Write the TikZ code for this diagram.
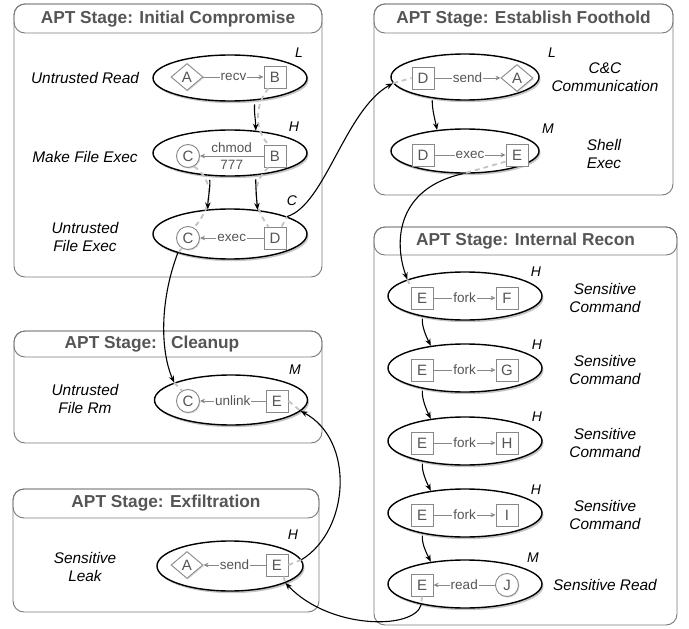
\documentclass[tikz,border=0pt]{standalone}
\usepackage{fontspec}
\setmainfont{Liberation Sans}
\usetikzlibrary{shapes.geometric,shadows,arrows.meta}
\definecolor{pgrey}{HTML}{7A7A7A}
\definecolor{tgrey}{HTML}{555555}
\definecolor{dgrey}{HTML}{C4C4C4}
\definecolor{igrey}{HTML}{888888}
\tikzset{
  panel/.style={draw=pgrey, line width=0.9pt, rounded corners=11pt},
  header/.style={font=\fontsize{17.3}{19}\selectfont\bfseries, text=tgrey, inner sep=0pt},
  ell/.style={ellipse, draw=black, line width=1.4pt, fill=white, inner sep=0pt,
    drop shadow={opacity=0.45, shadow xshift=1.5pt, shadow yshift=-2.2pt}},
  inner/.style={draw=igrey, line width=0.9pt, fill=white, inner sep=0pt, text=tgrey,
    font=\fontsize{15}{17}\selectfont,
    drop shadow={opacity=0.25, shadow xshift=1pt, shadow yshift=-1.2pt}},
  sq/.style={inner, rectangle, minimum size=22pt},
  circ/.style={inner, circle, minimum size=23pt},
  dia/.style={inner, diamond, minimum width=32pt, minimum height=27pt},
  iarr/.style={draw=igrey, line width=0.9pt, -{Stealth[length=5pt,width=4.5pt,inset=1.5pt]}},
  elab/.style={fill=white, inner sep=1pt, text=tgrey, font=\fontsize{13.5}{15}\selectfont},
  elabn/.style={inner sep=1pt, text=tgrey, font=\fontsize{13.5}{15}\selectfont},
  barr/.style={draw=black, line width=1.1pt, -{Stealth[length=7pt,width=5.5pt]}},
  gdash/.style={draw=dgrey, line width=1.8pt, dash pattern=on 5pt off 4pt},
  lvl/.style={font=\fontsize{14}{16}\selectfont\itshape},
  desc/.style={font=\fontsize{15.4}{18}\selectfont\itshape, align=center},
}
\begin{document}
\begin{tikzpicture}[x=1pt,y=-1pt]
\useasboundingbox (0,0) rectangle (689,629);

% ---------- panels ----------
\draw[panel] (14,4) rectangle (322,277);
\draw[panel] (14,4) rectangle (322,33);
\node[header] (h1) at (168,19) {APT Stage: Initial Compromise};

\draw[panel] (374,4) rectangle (673,195);
\draw[panel] (374,4) rectangle (673,33);
\node[header] (h2) at (523.5,19) {APT Stage: Establish Foothold};

\draw[panel] (374,227) rectangle (677,625);
\draw[panel] (374,227) rectangle (677,255);
\node[header] (h3) at (525.5,241) {APT Stage: Internal Recon};

\draw[panel] (14,331) rectangle (322,443);
\draw[panel] (14,331) rectangle (322,357);
\node[header] (h4) at (152,344) {APT Stage:\hspace{14pt}Cleanup};

\draw[panel] (13,489) rectangle (319,612);
\draw[panel] (13,489) rectangle (319,518);
\node[header] (h5) at (166,503.5) {APT Stage: Exfiltration};

% ---------- ellipses ----------
\node[ell, minimum width=154pt, minimum height=46pt] (e1) at (230,78) {};
\node[ell, minimum width=154pt, minimum height=46pt] (e2) at (230,153) {};
\node[ell, minimum width=154pt, minimum height=50pt] (e3) at (230,234) {};
\node[ell, minimum width=153pt, minimum height=50pt] (e4) at (231,400) {};
\node[ell, minimum width=146pt, minimum height=50pt] (e5) at (230,566) {};
\node[ell, minimum width=148pt, minimum height=46pt] (f1) at (465,77) {};
\node[ell, minimum width=148pt, minimum height=44pt] (f2) at (465,151) {};
\node[ell, minimum width=154pt, minimum height=48pt] (r1) at (465,296) {};
\node[ell, minimum width=154pt, minimum height=48pt] (r2) at (465,368) {};
\node[ell, minimum width=154pt, minimum height=48pt] (r3) at (465,441) {};
\node[ell, minimum width=154pt, minimum height=48pt] (r4) at (465,513) {};
\node[ell, minimum width=154pt, minimum height=48pt] (r5) at (465,584) {};

% ---------- inner nodes ----------
\node[dia] (e1a) at (187,77) {A};
\node[sq] (e1b) at (275,77) {B};
\node[circ] (e2c) at (188,156) {C};
\node[sq] (e2b) at (275,156) {B};
\node[circ] (e3c) at (188,238) {C};
\node[sq] (e3d) at (275,238) {D};
\node[circ] (e4c) at (188,401) {C};
\node[sq] (e4e) at (277,401) {E};
\node[dia] (e5a) at (187,565) {A};
\node[sq] (e5e) at (277,565) {E};
\node[sq] (f1d) at (423,78) {D};
\node[dia] (f1a) at (517,78) {A};
\node[sq] (f2d) at (423,155) {D};
\node[sq] (f2e) at (517,155) {E};
\node[sq] (r1e) at (422,298) {E};
\node[sq] (r1f) at (507,298) {F};
\node[sq] (r2e) at (422,370) {E};
\node[sq] (r2f) at (507,370) {G};
\node[sq] (r3e) at (422,443) {E};
\node[sq] (r3f) at (507,443) {H};
\node[sq] (r4e) at (422,515) {E};
\node[sq] (r4f) at (507,515) {I};
\node[sq] (r5e) at (422,585) {E};
\node[circ] (r5j) at (507,585) {J};

% ---------- inner edges ----------
\draw[iarr] (e1a) -- node[elab]{recv} (e1b);
\draw[iarr] (e2b) -- node[elabn, above=2pt]{chmod} node[elabn, below=2.5pt]{777} (e2c);
\draw[iarr] (e3d) -- node[elab]{exec} (e3c);
\draw[iarr] (e4e) -- node[elab]{unlink} (e4c);
\draw[iarr] (e5e) -- node[elab]{send} (e5a);
\draw[iarr] (f1d) -- node[elab]{send} (f1a);
\draw[iarr] (f2d) -- node[elab]{exec} (f2e);
\draw[iarr] (r1e) -- node[elab]{fork} (r1f);
\draw[iarr] (r2e) -- node[elab]{fork} (r2f);
\draw[iarr] (r3e) -- node[elab]{fork} (r3f);
\draw[iarr] (r4e) -- node[elab]{fork} (r4f);
\draw[iarr] (r5j) -- node[elab]{read} (r5e);

% ---------- grey dashed flows ----------
\draw[gdash] (e1b.-120) .. controls (256,103) and (253,128) .. (e2b.120);
\draw[gdash] (e2c.-60) .. controls (214,180) and (214,205) .. (e3c.60);
\draw[gdash] (e2b.-120) .. controls (252,182) and (252,205) .. (e3d.120);
\draw[gdash] (e3d.60) -- (e3.17);
\draw[gdash] (f1.185) -- (f1d.west);
\draw[gdash] (e3c.-120) -- (e3.200);
\draw[gdash] (e4.163) -- (e4c.120);
\draw[gdash] (f2e.-150) -- (f2.265);
\draw[gdash] (r1.164) -- (r1e.north west);
\draw[gdash] (r5e.south) -- (r5.205);
\draw[gdash] (e5e.-60) -- (e5.-17);
\draw[gdash] (e5e.east) -- (e5.5);
\draw[gdash] (e4e.east) -- (e4.-9);

% ---------- black flow arrows ----------
\draw[barr, shorten <=4pt] (e1.-42) .. controls +(-1,12) and +(0,-10) .. (e2.41);
\draw[barr, shorten <=4pt] (e2.-132) .. controls +(1,12) and +(0,-10) .. (e3.132);
\draw[barr, shorten <=4pt] (e2.-41) .. controls +(0,12) and +(-1,-10) .. (e3.41);
\draw[barr] (e3.17) .. controls (325,205) and (345,110) .. (f1.185);
\draw[barr] (e3.200) .. controls (160,300) and (160,350) .. (e4.163);
\draw[barr, shorten <=2pt] (f1.-147) .. controls +(0,12) and +(-2,-10) .. (f2.143);
\draw[barr] (f2.265) .. controls (398,188) and (393,240) .. (r1.164);
\draw[barr, shorten <=2pt] (r1.206) .. controls +(-1,10) and +(-4,-8) .. (r2.147);
\draw[barr, shorten <=2pt] (r2.206) .. controls +(-1,10) and +(-4,-8) .. (r3.147);
\draw[barr, shorten <=2pt] (r3.206) .. controls +(-1,10) and +(-4,-8) .. (r4.147);
\draw[barr, shorten <=2pt] (r4.206) .. controls +(-1,10) and +(-4,-8) .. (r5.147);
\draw[barr] (r5.205) .. controls (415,630) and (330,630) .. (e5.-17);
\draw[barr] (e5.5) .. controls (350,530) and (355,440) .. (e4.-9);

% ---------- level labels ----------
\node[lvl] (l1) at (299,53) {L};
\node[lvl] (l2) at (294,127) {H};
\node[lvl] (l3) at (292,201) {C};
\node[lvl] (l4) at (295,370) {M};
\node[lvl] (l5) at (293,535) {H};
\node[lvl] (l6) at (552,53) {L};
\node[lvl] (l7) at (548,129) {M};
\node[lvl] (l8) at (536,272) {H};
\node[lvl] (l9) at (537,345) {H};
\node[lvl] (l10) at (537,417) {H};
\node[lvl] (l11) at (536,490) {H};
\node[lvl] (l12) at (533,558) {M};

% ---------- descriptions ----------
\node[desc] (d1) at (85,78) {Untrusted Read};
\node[desc] (d2) at (85,157) {Make File Exec};
\node[desc] (d3) at (85,237) {Untrusted\\File Exec};
\node[desc] (d4) at (85,399) {Untrusted\\File Rm};
\node[desc] (d5) at (85,567) {Sensitive\\Leak};
\node[desc] (d6) at (605,77) {C\&C\\Communication};
\node[desc] (d7) at (604,154) {Shell\\Exec};
\node[desc] (d8) at (605,298) {Sensitive\\Command};
\node[desc] (d9) at (605,370) {Sensitive\\Command};
\node[desc] (d10) at (605,443) {Sensitive\\Command};
\node[desc] (d11) at (605,515) {Sensitive\\Command};
\node[desc] (d12) at (605,585) {Sensitive Read};
\end{tikzpicture}
\end{document}
